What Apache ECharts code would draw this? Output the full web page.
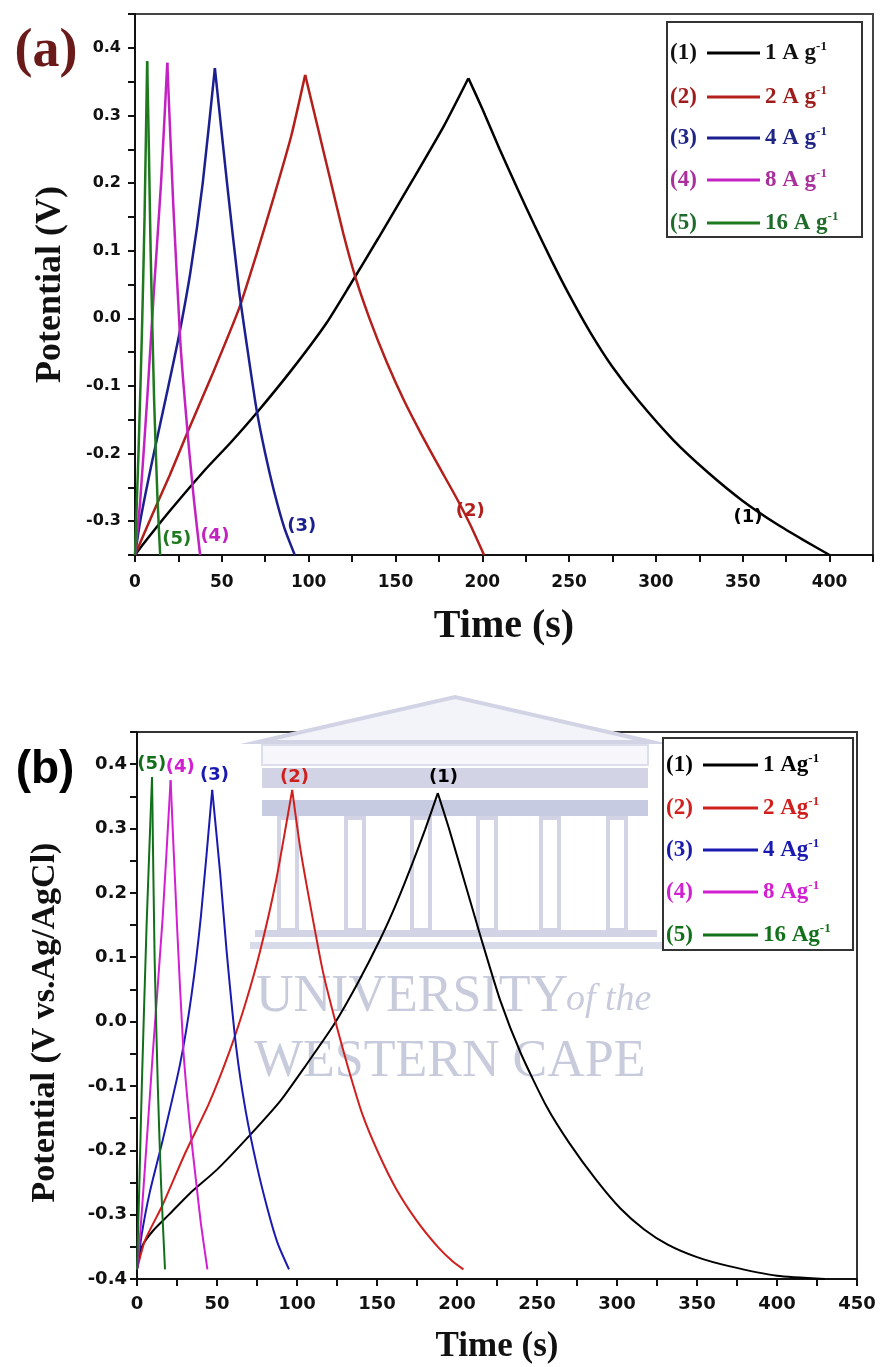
<!DOCTYPE html>
<html>
<head>
<meta charset="utf-8">
<script src="https://cdn.jsdelivr.net/npm/echarts@6/dist/echarts.min.js"></script>
<style>
  html, body { margin: 0; padding: 0; background: #fff; }
  #main { width: 881px; height: 1367px; }
</style>
</head>
<body>
<div id="main"></div>
<script>
// ---- panel (a): [time (s), potential (V)] ----
var a1Charge    = [[0,-0.35],[5,-0.333],[20,-0.285],[40,-0.225],[55,-0.184],[70,-0.14],[90,-0.077],[110,-0.008],[124,0.05],[140,0.118],[160,0.205],[178,0.285],[192,0.355]];
var a1Discharge = [[192,0.355],[200,0.31],[210,0.25],[220,0.193],[230,0.138],[240,0.085],[250,0.035],[262,-0.02],[275,-0.072],[290,-0.122],[310,-0.18],[330,-0.228],[350,-0.27],[370,-0.305],[385,-0.328],[400,-0.35]];
var a2Charge    = [[0,-0.35],[10,-0.29],[20,-0.232],[30,-0.17],[45,-0.08],[60,0.015],[70,0.095],[80,0.18],[90,0.27],[98,0.36]];
var a2Discharge = [[98,0.36],[105,0.285],[112,0.21],[120,0.125],[127,0.06],[135,0.0],[145,-0.065],[155,-0.122],[165,-0.172],[175,-0.219],[185,-0.265],[193,-0.305],[201,-0.35]];
var a3Charge    = [[0,-0.35],[3,-0.3],[10,-0.21],[18,-0.115],[25,-0.03],[32,0.07],[39,0.2],[46,0.37]];
var a3Discharge = [[46,0.37],[53,0.2],[60,0.04],[65,-0.05],[70,-0.135],[75,-0.2],[80,-0.255],[86,-0.31],[92,-0.35]];
var a4Charge    = [[0,-0.35],[3,-0.27],[7,-0.12],[11,0.045],[15,0.2],[18.6,0.378]];
var a4Discharge = [[18.6,0.378],[22,0.17],[26,-0.03],[28,-0.1],[31,-0.19],[34,-0.27],[37.5,-0.35]];
var a5Charge    = [[0,-0.35],[2,-0.2],[4,-0.02],[5.5,0.15],[7,0.38]];
var a5Discharge = [[7,0.38],[8,0.25],[9,0.1],[11,-0.12],[13,-0.27],[14.5,-0.35]];
var aCurveTags  = [[353,-0.294],[193,-0.285],[96,-0.307],[46,-0.322],[24,-0.327]];

// ---- panel (b) ----
var b1Charge    = [[0,-0.385],[3,-0.35],[10,-0.325],[20,-0.3],[33,-0.267],[50,-0.23],[70,-0.178],[90,-0.122],[105,-0.07],[123,-0.005],[138,0.06],[152,0.128],[162,0.183],[172,0.245],[180,0.298],[188,0.355]];
var b1Discharge = [[188,0.355],[195,0.3],[205,0.215],[215,0.13],[227,0.033],[240,-0.05],[256,-0.132],[270,-0.188],[287,-0.246],[302,-0.29],[317,-0.323],[332,-0.347],[350,-0.366],[370,-0.38],[400,-0.395],[430,-0.4]];
var b2Charge    = [[0,-0.385],[5,-0.34],[16,-0.285],[30,-0.205],[45,-0.127],[58,-0.045],[68,0.03],[77,0.11],[87,0.22],[97,0.36]];
var b2Discharge = [[97,0.36],[102,0.27],[108,0.185],[116,0.08],[124,0.0],[132,-0.072],[141,-0.145],[151,-0.205],[162,-0.26],[175,-0.31],[188,-0.35],[197,-0.372],[204,-0.385]];
var b3Charge    = [[0,-0.385],[3,-0.33],[8,-0.265],[16,-0.185],[27,-0.065],[34,0.04],[40,0.165],[47,0.36]];
var b3Discharge = [[47,0.36],[52,0.23],[56,0.11],[62,-0.04],[68,-0.14],[75,-0.225],[82,-0.295],[88,-0.345],[95,-0.385]];
var b4Charge    = [[0,-0.385],[2,-0.33],[5,-0.225],[10,-0.045],[16,0.16],[21,0.375]];
var b4Discharge = [[21,0.375],[25,0.15],[29,-0.045],[33,-0.16],[37,-0.25],[40,-0.315],[44,-0.385]];
var b5Charge    = [[0,-0.385],[1.5,-0.25],[3,-0.1],[6,0.15],[9.4,0.38]];
var b5Discharge = [[9.4,0.38],[11,0.1],[13,-0.1],[15,-0.25],[17.5,-0.385]];
var bCurveTags  = [[191.5,0.38],[98.5,0.38],[48.5,0.383],[27,0.395],[9.2,0.4]];

var curveIds   = ['(1)', '(2)', '(3)', '(4)', '(5)'];
var rateLabels = ['1', '2', '4', '8', '16'];

var colorsA     = ['#000000', '#b3201c', '#1b1f8f', '#c322c3', '#1f7a1f'];
var legendTextA = ['#111111', '#9e1c1c', '#1f2585', '#a9309c', '#1e6b2a'];
var colorsB     = ['#000000', '#d0201e', '#1a1ab0', '#d21fd2', '#12701a'];

var SERIF = '"Liberation Serif", "Times New Roman", serif';
var SANS = '"DejaVu Sans", Arial, sans-serif';

var chart = echarts.init(document.getElementById('main'));

function tenthLabel(v) {
  var k = v * 10;
  return Math.abs(k - Math.round(k)) < 1e-6 ? (Math.round(k) / 10).toFixed(1) : '';
}
function fiftyLabel(v) {
  return Math.abs(v / 50 - Math.round(v / 50)) < 1e-6 ? String(Math.round(v)) : '';
}

function curve(gi, data, color, width, tag, tagText) {
  var s = {
    type: 'line', xAxisIndex: gi, yAxisIndex: gi, data: data,
    showSymbol: false, smooth: 0.2,
    lineStyle: { color: color, width: width }, itemStyle: { color: color },
    silent: true, animation: false
  };
  if (tag) {
    s.markPoint = {
      symbol: 'circle', symbolSize: 1, animation: false, silent: true,
      itemStyle: { color: 'rgba(0,0,0,0)' },
      label: { show: true, position: 'inside', formatter: tagText, color: color,
               fontFamily: SANS, fontWeight: 'bold', fontSize: 18 },
      data: [{ coord: tag }]
    };
  }
  return s;
}

var aData = [[a1Charge, a1Discharge], [a2Charge, a2Discharge], [a3Charge, a3Discharge], [a4Charge, a4Discharge], [a5Charge, a5Discharge]];
var bData = [[b1Charge, b1Discharge], [b2Charge, b2Discharge], [b3Charge, b3Discharge], [b4Charge, b4Discharge], [b5Charge, b5Discharge]];

var series = [];
for (var i = 0; i < 5; i++) {
  series.push(curve(0, aData[i][0], colorsA[i], 2.5, aCurveTags[i], curveIds[i]));
  series.push(curve(0, aData[i][1], colorsA[i], 2.5));
  series.push(curve(1, bData[i][0], colorsB[i], 2, bCurveTags[i], curveIds[i]));
  series.push(curve(1, bData[i][1], colorsB[i], 2));
}

// legend boxes drawn as graphics: "(n) —— rate A g-1"
function legendBox(x, y, w, h, rowY, cols, unit, lineX) {
  var els = [{ type: 'rect', shape: { x: x, y: y, width: w, height: h },
               style: { fill: '#fff', stroke: '#333', lineWidth: 2 } }];
  for (var i = 0; i < 5; i++) {
    var cy = rowY[i];
    els.push({ type: 'text', style: { text: curveIds[i], x: x + 3, y: cy, fill: cols.text[i],
      font: 'bold 23px ' + SERIF, verticalAlign: 'middle' } });
    els.push({ type: 'line', shape: { x1: lineX[0], y1: cy, x2: lineX[1], y2: cy },
      style: { stroke: cols.line[i], lineWidth: 3 } });
    els.push({ type: 'text', style: {
      text: '{m|' + rateLabels[i] + unit + '}{s|-1}', x: lineX[1] + 5, y: cy, verticalAlign: 'middle',
      rich: {
        m: { fill: cols.text[i], fontFamily: SERIF, fontWeight: 'bold', fontSize: 23, lineHeight: 26 },
        s: { fill: cols.text[i], fontFamily: SERIF, fontWeight: 'bold', fontSize: 13, verticalAlign: 'top', lineHeight: 26 }
      } } });
  }
  return { type: 'group', z: 100, children: els };
}

// faint university watermark behind panel (b)
var wm = '#d2d4e6';
var watermark = { type: 'group', z: 0, silent: true, children: [
  { type: 'polygon', shape: { points: [[258,742],[455,697],[652,742]] }, style: { fill: '#f3f4f9', stroke: wm, lineWidth: 4 } },
  { type: 'rect', shape: { x: 262, y: 745, width: 386, height: 20 }, style: { fill: '#f7f7fb', stroke: '#dcdeec', lineWidth: 2 } },
  { type: 'rect', shape: { x: 262, y: 768, width: 386, height: 20 }, style: { fill: wm } },
  { type: 'rect', shape: { x: 262, y: 800, width: 386, height: 16 }, style: { fill: '#c7cbe2' } },
  { type: 'rect', shape: { x: 279, y: 818, width: 18, height: 112 }, style: { fill: 'none', stroke: wm, lineWidth: 4 } },
  { type: 'rect', shape: { x: 346, y: 818, width: 18, height: 112 }, style: { fill: 'none', stroke: wm, lineWidth: 4 } },
  { type: 'rect', shape: { x: 412, y: 818, width: 18, height: 112 }, style: { fill: 'none', stroke: wm, lineWidth: 4 } },
  { type: 'rect', shape: { x: 478, y: 818, width: 18, height: 112 }, style: { fill: 'none', stroke: wm, lineWidth: 4 } },
  { type: 'rect', shape: { x: 541, y: 818, width: 18, height: 112 }, style: { fill: 'none', stroke: wm, lineWidth: 4 } },
  { type: 'rect', shape: { x: 608, y: 818, width: 18, height: 112 }, style: { fill: 'none', stroke: wm, lineWidth: 4 } },
  { type: 'rect', shape: { x: 255, y: 930, width: 402, height: 7 }, style: { fill: wm } },
  { type: 'rect', shape: { x: 250, y: 942, width: 412, height: 7 }, style: { fill: '#d8dbea' } },
  { type: 'text', style: { text: 'UNIVERSITY', x: 256, y: 997, verticalAlign: 'middle', fill: '#c8cbdc', font: '52px ' + SERIF } },
  { type: 'text', style: { text: 'of the', x: 566, y: 1000, verticalAlign: 'middle', fill: '#c8cbdc', font: 'italic 38px ' + SERIF } },
  { type: 'text', style: { text: 'WESTERN CAPE', x: 254, y: 1062, verticalAlign: 'middle', fill: '#c8cbdc', font: '52px ' + SERIF } }
] };

function xAxis(gi, max, name, nameGap, nameSize, labelSize, margin) {
  return {
    type: 'value', gridIndex: gi, min: 0, max: max, interval: 25,
    name: name, nameLocation: 'middle', nameGap: nameGap,
    nameTextStyle: { fontFamily: SERIF, fontWeight: 'bold', fontSize: nameSize, color: '#111' },
    axisLine: { show: true, onZero: false, lineStyle: { color: '#111', width: 2 } },
    axisTick: { show: true, inside: false, length: 7, lineStyle: { color: '#111', width: 2 } },
    axisLabel: { formatter: fiftyLabel, margin: margin, color: '#111', fontFamily: SANS, fontWeight: 'bold', fontSize: labelSize },
    splitLine: { show: false }
  };
}
function yAxis(gi, min, name, nameGap, nameSize, labelSize, margin, namePad) {
  return {
    type: 'value', gridIndex: gi, min: min, max: 0.45, interval: 0.05,
    name: name, nameLocation: 'middle', nameGap: nameGap, nameRotate: 90,
    nameTextStyle: { fontFamily: SERIF, fontWeight: 'bold', fontSize: nameSize, color: '#111', padding: namePad },
    axisLine: { show: true, onZero: false, lineStyle: { color: '#111', width: 2 } },
    axisTick: { show: true, inside: false, length: 7, lineStyle: { color: '#111', width: 2 } },
    axisLabel: { formatter: tenthLabel, margin: margin, color: '#111', fontFamily: SANS, fontWeight: 'bold', fontSize: labelSize },
    splitLine: { show: false }
  };
}

var option = {
  backgroundColor: '#fff',
  animation: false,
  grid: [
    { left: 135, top: 14, width: 738, height: 541, show: true, borderColor: '#444', borderWidth: 2 },
    { left: 137, top: 732, width: 720, height: 547, show: true, borderColor: '#333', borderWidth: 2 }
  ],
  xAxis: [
    xAxis(0, 425, 'Time (s)', 52, 40, 17, 19),
    xAxis(1, 450, 'Time (s)', 50, 35, 18, 16)
  ],
  yAxis: [
    yAxis(0, -0.35, 'Potential (V)', 66, 36, 16, 14, [0, 0, 0, 0]),
    yAxis(1, -0.4, 'Potential (V vs.Ag/AgCl)', 75, 34, 18, 10, [0, 34, 0, 0])
  ],
  graphic: [
    watermark,
    { type: 'text', z: 100, style: { text: '(a)', x: 46, y: 52, align: 'center', verticalAlign: 'middle', fill: '#6b1a1a', font: 'bold 54px ' + SERIF } },
    { type: 'text', z: 100, style: { text: '(b)', x: 45, y: 770, align: 'center', verticalAlign: 'middle', fill: '#000', font: 'bold 46px "Liberation Sans", Arial, sans-serif' } },
    legendBox(667, 22, 195, 215, [53, 97, 138, 180, 223], { text: legendTextA, line: colorsA }, ' A g', [707, 760]),
    legendBox(663, 738, 190, 212, [765, 808, 850, 892, 935], { text: colorsB, line: colorsB }, ' Ag', [703, 758])
  ],
  series: series
};

chart.setOption(option);
</script>
</body>
</html>
